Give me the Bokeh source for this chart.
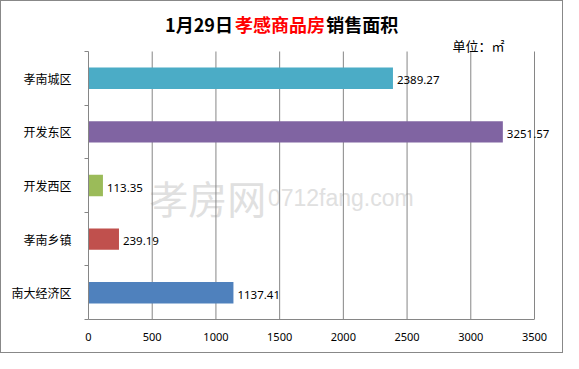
from bokeh.plotting import figure
from bokeh.models import Range1d, FixedTicker, ColumnDataSource, LabelSet, Label
from bokeh.core.properties import value
from bokeh.embed import file_html
from bokeh.resources import INLINE

# ---- data ----
categories = ["孝南城区", "开发东区", "开发西区", "孝南乡镇", "南大经济区"]
areas = [2389.27, 3251.57, 113.35, 239.19, 1137.41]
colors = ["#4bacc6", "#8064a2", "#9bbb59", "#c0504d", "#4f81bd"]
x_ticks = [0, 500, 1000, 1500, 2000, 2500, 3000, 3500]
title_parts = ["1月29日", "孝感商品房", "销售面积"]
unit_text = "单位：㎡"
watermark = ["孝房网", "0712fang.com"]

n = len(categories)
ypos = [n - 0.5 - i for i in range(n)]
x_max = x_ticks[-1]

src = ColumnDataSource(dict(y=ypos, v=areas, color=colors,
                            lbl=[f"{a:.2f}" for a in areas]))

GRAY = "#868686"
CJK = "Noto Sans CJK SC"

# layout: the frame spans the top and right margins too, so that the title,
# unit note and end labels are drawn inside it (annotations are clipped to it)
W, H = 563, 353
LEFT, BOTTOM = 87, 35
PLOT_W, PLOT_TOP = 446, 50           # pixel width of 0..3500, top margin of the bars area
frame_w = W - LEFT
frame_h = H - BOTTOM
x_end = x_max * frame_w / PLOT_W
y_end = n * frame_h / (frame_h - PLOT_TOP)

p = figure(width=W, height=H, output_backend="svg", toolbar_location=None,
           x_range=Range1d(0, x_end), y_range=Range1d(0, y_end),
           min_border_left=LEFT, min_border_right=0, min_border_top=0,
           min_border_bottom=BOTTOM,
           background_fill_color="white", border_fill_color="white")
p.outline_line_color = None
p.styles = {"border": "1px solid #888888", "box-sizing": "border-box"}
p.xgrid.visible = False
p.ygrid.visible = False

# watermark
p.add_layout(Label(x=477, y=2.29, text=watermark[0], text_font=CJK, text_font_size="39px",
                   text_baseline="middle", text_align="left", text_color="#e0e0e0",
                   level="underlay"))
p.add_layout(Label(x=1408, y=2.27, text=watermark[1], text_font="Liberation Sans",
                   text_font_size="23px", text_baseline="middle", text_align="left",
                   text_color="#e0e0e0", level="underlay"))

# vertical grid lines at the x ticks, spanning the category area only
p.segment(x0=x_ticks[1:], y0=[0] * (len(x_ticks) - 1), x1=x_ticks[1:], y1=[n] * (len(x_ticks) - 1),
          line_color=GRAY, line_width=1)

p.hbar(y="y", left=0, right="v", height=0.4, fill_color="color", line_color=None, source=src)

# x axis
p.xaxis.bounds = (0, x_max)
p.xaxis.ticker = FixedTicker(ticks=x_ticks)
p.xaxis.axis_line_color = GRAY
p.xaxis.major_tick_line_color = None
p.xaxis.minor_tick_line_color = None
p.xaxis.major_tick_out = 0
p.xaxis.major_tick_in = 0
p.xaxis.major_label_standoff = 13
p.xaxis.major_label_text_font = "Noto Sans"
p.xaxis.major_label_text_font_size = "11px"
p.xaxis.major_label_text_color = "black"

# y axis: labels at category centres, ticks at category boundaries
p.yaxis.bounds = (0, n)
p.yaxis.ticker = FixedTicker(ticks=ypos, minor_ticks=list(range(n + 1)))
p.yaxis.major_label_overrides = {y: c for y, c in zip(ypos, categories)}
p.yaxis.axis_line_color = GRAY
p.yaxis.major_tick_line_color = None
p.yaxis.major_tick_out = 0
p.yaxis.major_tick_in = 0
p.yaxis.minor_tick_line_color = GRAY
p.yaxis.minor_tick_out = 4
p.yaxis.minor_tick_in = 0
p.yaxis.major_label_standoff = 13
p.yaxis.major_label_text_font = CJK
p.yaxis.major_label_text_font_size = "12px"
p.yaxis.major_label_text_color = "black"

p.add_layout(LabelSet(x="v", y="y", text="lbl", source=src, x_offset=4, y_offset=-2,
                      text_baseline="middle", text_align="left",
                      text_font=value("Noto Sans"), text_font_size="11.5px",
                      text_color="black"))

# title pieces
tb = dict(y=5.504, text_baseline="middle", text_font=CJK, text_font_size="18px",
          text_font_style="bold")
p.add_layout(Label(x=1133, text=title_parts[0], text_align="right", text_color="black", **tb))
p.add_layout(Label(x=1503.6, text=title_parts[1], text_align="center", text_color="#ff0000", **tb))
p.add_layout(Label(x=1866, text=title_parts[2], text_align="left", text_color="black", **tb))

p.add_layout(Label(x=2856, y=5.112, text=unit_text, text_baseline="middle", text_align="left",
                   text_font=CJK, text_font_size="13px", text_color="black"))

open("out.html", "w").write(file_html(p, INLINE))
